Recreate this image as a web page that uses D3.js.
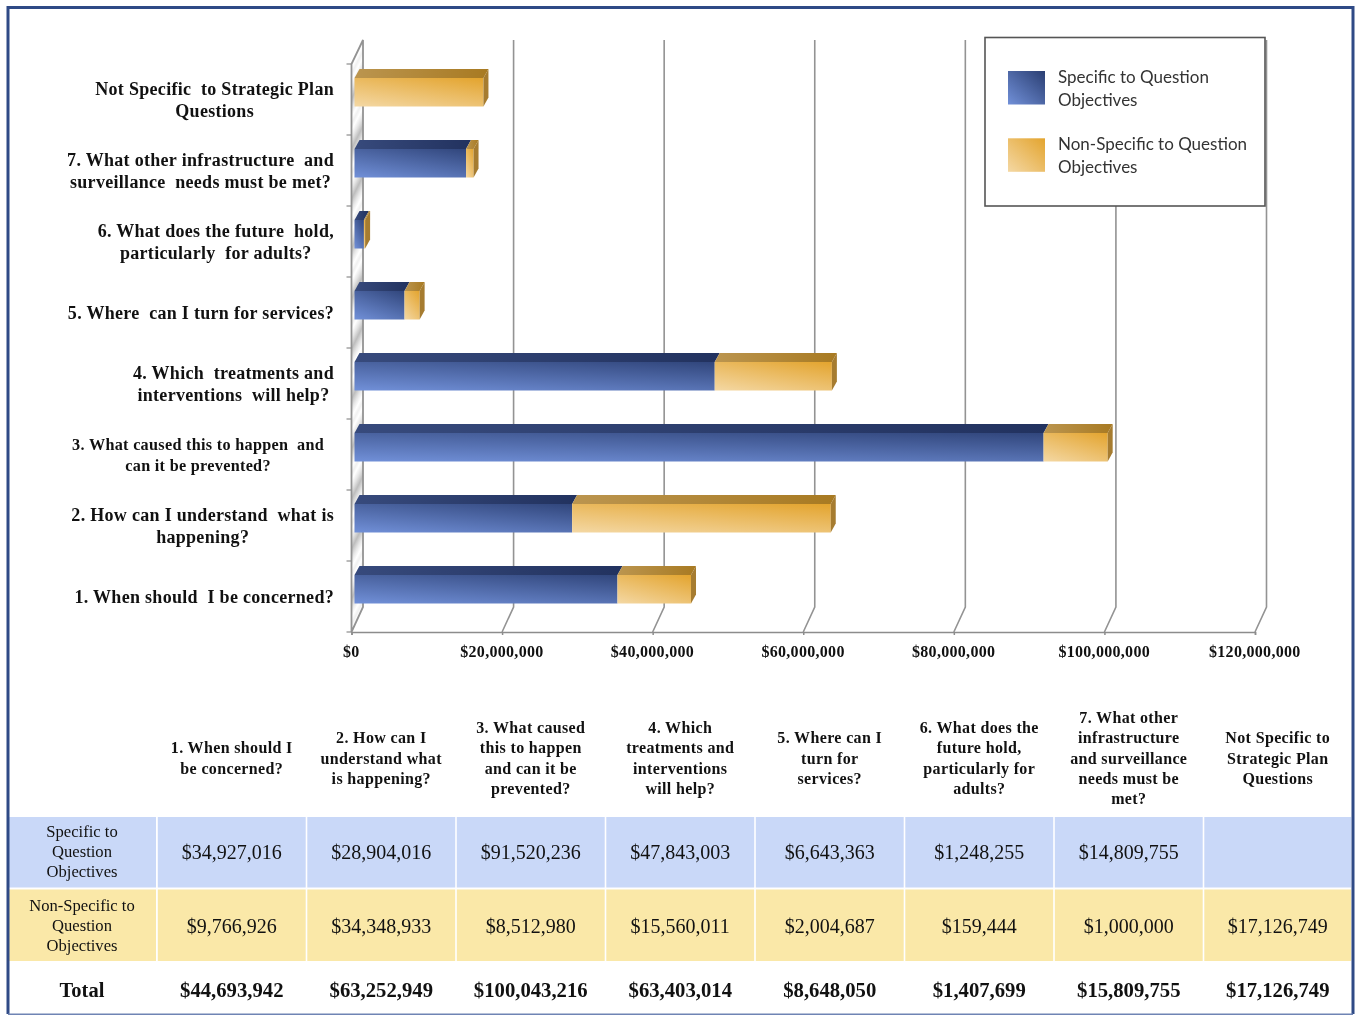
<!DOCTYPE html>
<html><head><meta charset="utf-8">
<script src="https://cdn.jsdelivr.net/npm/d3@7/dist/d3.min.js"></script>
<style>html,body{margin:0;padding:0;background:#fff;overflow:hidden}svg{display:block;filter:blur(.35px)}text{fill:#111}</style>
</head><body><svg id="c" width="1355" height="1015"></svg>
<script>
const categories=["1. When should I be concerned?","2. How can I understand what is happening?","3. What caused this to happen and can it be prevented?","4. Which treatments and interventions will help?","5. Where can I turn for services?","6. What does the future hold, particularly for adults?","7. What other infrastructure and surveillance needs must be met?","Not Specific to Strategic Plan Questions"];
const axisLabelLines=[["1. When should  I be concerned?"],["2. How can I understand  what is","happening?"],["3. What caused this to happen  and","can it be prevented?"],["4. Which  treatments and","interventions  will help?"],["5. Where  can I turn for services?"],["6. What does the future  hold,","particularly  for adults?"],["7. What other infrastructure  and","surveillance  needs must be met?"],["Not Specific  to Strategic Plan","Questions"]];
const headerLines=[["1. When should I","be concerned?"],["2. How can I","understand what","is happening?"],["3. What caused","this to happen","and can it be","prevented?"],["4. Which","treatments and","interventions","will help?"],["5. Where can I","turn for","services?"],["6. What does the","future hold,","particularly for","adults?"],["7. What other","infrastructure","and surveillance","needs must be","met?"],["Not Specific to","Strategic Plan","Questions"]];
const specific=[34927016,28904016,91520236,47843003,6643363,1248255,14809755,null];
const nonSpecific=[9766926,34348933,8512980,15560011,2004687,159444,1000000,17126749];
const totals=[44693942,63252949,100043216,63403014,8648050,1407699,15809755,17126749];
const seriesNames=["Specific to Question Objectives","Non-Specific to Question Objectives"];
const seriesLegendLines=[["Specific to Question","Objectives"],["Non-Specific to Question","Objectives"]];
const rowHeadLines=[["Specific to","Question","Objectives"],["Non-Specific to","Question","Objectives"]];
const xTicks=[0,20e6,40e6,60e6,80e6,100e6,120e6];

const svg=d3.select("#c"),SERIF="'Liberation Serif',serif";
const defs=svg.append("defs");
function grad(id,a,b,x2,y2){const g=defs.append("linearGradient").attr("id",id).attr("x1","0").attr("y1","1").attr("x2",x2).attr("y2",y2);
 g.append("stop").attr("offset","0").attr("stop-color",a);g.append("stop").attr("offset","1").attr("stop-color",b);}
const hgrad=(id,a,b)=>{const g=defs.append("linearGradient").attr("id",id);g.append("stop").attr("offset","0").attr("stop-color",a);g.append("stop").attr("offset","1").attr("stop-color",b);};
grad("blue","#7190d8","#2a3e72",.82,-.29);grad("orange","#f4d8a4","#e3a42e",.77,-.15);
grad("blueSq","#7190d8","#2a3e72",1,0);grad("orangeSq","#f4d8a4","#e3a42e",1,0);
hgrad("blueTop","#374a7c","#22325f");hgrad("orangeTop","#bb954f","#a87a22");
const w=defs.append("linearGradient").attr("id","wall").attr("gradientUnits","userSpaceOnUse").attr("x1","351").attr("y1","0").attr("x2","361").attr("y2","5").attr("spreadMethod","reflect");
[[0,"#bdbdbd"],[.4,"#e6e6e6"],[.75,"#ffffff"],[1,"#f0f0f0"]].forEach(s=>w.append("stop").attr("offset",s[0]).attr("stop-color",s[1]));

const floorY=632,topY=64,depthX=11.5,depthY=-25;
const xFront=d3.scaleLinear().domain([0,120e6]).range([351.5,1255]);
const band=d3.scaleBand().domain(d3.range(categories.length)).range([floorY,topY]);
const barInset=3,barDX=5,barDY=-9,barH=28.5,barOffset=14;
const poly=d3.line();

// gridlines and wall
const grid=svg.append("g").attr("fill","none").attr("stroke","#939393").attr("stroke-width",1.6);
grid.selectAll("path").data(xTicks.slice(1)).join("path")
 .attr("d",d=>poly([[xFront(d),floorY],[xFront(d)+depthX,floorY+depthY],[xFront(d)+depthX,40]]));
svg.append("path").attr("d",poly([[xFront(0),floorY],[xFront(0)+depthX,floorY+depthY],[xFront(0)+depthX,40],[xFront(0),topY]])+"Z").attr("fill","url(#wall)").attr("stroke","#939393").attr("stroke-width",1.8);

// y ticks
svg.append("g").attr("stroke","#8c8c8c").attr("stroke-width",1.2).selectAll("line").data(d3.range(categories.length+1)).join("line")
 .attr("x1",xFront(0)-5).attr("x2",xFront(0)).attr("y1",i=>floorY+(topY-floorY)*i/categories.length).attr("y2",i=>floorY+(topY-floorY)*i/categories.length);

// x axis
const ax=svg.append("g").attr("transform",`translate(0,${floorY})`).call(d3.axisBottom(xFront).tickValues(xTicks).tickSize(3).tickPadding(11).tickFormat(d=>"$"+d3.format(",")(d)));
ax.selectAll(".domain,line").attr("stroke","#8c8c8c").attr("stroke-width",1.5);
ax.selectAll("text").attr("font-family",SERIF).attr("font-weight","bold").attr("font-size",16).attr("letter-spacing",.3).attr("dx",-.7).attr("fill","#111");

// bars
const barX=v=>xFront(v)+barInset;
const barsG=svg.append("g");
categories.forEach((c,i)=>{
 const y0=band(i)+barOffset,y1=y0+barH;
 const a=specific[i]||0,b=a+(nonSpecific[i]||0);
 const g=barsG.append("g");
 const seg=(from,to,front,top)=>{ if(to<=from)return;
  g.append("path").attr("d",poly([[barX(from),y0],[barX(to),y0],[barX(to)+barDX,y0+barDY],[barX(from)+barDX,y0+barDY]])+"Z").attr("fill",`url(#${top})`);
  g.append("rect").attr("x",barX(from)).attr("y",y0).attr("width",barX(to)-barX(from)).attr("height",barH).attr("fill",`url(#${front})`);
 };
 seg(0,a,"blue","blueTop");
 seg(a,b,"orange","orangeTop");
 g.append("path").attr("d",poly([[barX(b),y0],[barX(b)+barDX,y0+barDY],[barX(b)+barDX,y1+barDY],[barX(b),y1]])+"Z").attr("fill","#a67c30");
});

// category labels
const labelsG=svg.append("g").attr("font-family",SERIF).attr("font-weight","bold");
axisLabelLines.forEach((lines,i)=>{
 const small=i===2,fs=small?16.2:18,lh=small?21:22,right=small?324:334;
 const cy=band(i)+35.5;
 const ts=lines.map((t,k)=>labelsG.append("text").attr("font-size",fs).attr("letter-spacing",.3).style("white-space","pre").attr("text-anchor","middle").attr("y",cy+6+(k-(lines.length-1)/2)*lh).text(t));
 const mw=d3.max(ts,t=>t.node().getComputedTextLength());
 ts.forEach(t=>t.attr("x",right-mw/2));
});

// legend
svg.append("rect").attr("x",985).attr("y",37.5).attr("width",280).attr("height",168.5).attr("fill","#fff").attr("stroke","#555").attr("stroke-width",1.6);
seriesNames.forEach((n,i)=>{
 const y=71+i*67.3;
 svg.append("rect").attr("x",1008).attr("y",y).attr("width",37).attr("height",33.5).attr("fill",i?"url(#orangeSq)":"url(#blueSq)");
 seriesLegendLines[i].forEach((t,k)=>svg.append("text").attr("x",1058).attr("y",y+12+k*22.5).attr("font-family","Lato,sans-serif").attr("font-size",17).style("fill","#333").text(t));
});

// table
const colEdges=[9,157,306.5,456,605.5,755,904.5,1054,1203.5,1352];
const rowsY=[[817,887.5],[889.5,961]];
const rowTextNudge=[0,.8];
const fills=["#c9d8f8","#fae8a8"];
const fmt=v=>v==null?"":"$"+d3.format(",")(v);
const tbl=svg.append("g").attr("font-family",SERIF).attr("text-anchor","middle");
[specific,nonSpecific].forEach((vals,r)=>{
 const [t,b]=rowsY[r],my=(t+b)/2+rowTextNudge[r];
 tbl.append("rect").attr("x",colEdges[0]).attr("y",t).attr("width",colEdges[1]-colEdges[0]-1).attr("height",b-t).attr("fill",fills[r]);
 rowHeadLines[r].forEach((l,k)=>tbl.append("text").attr("x",(colEdges[0]+colEdges[1])/2-1).attr("y",my+5.2+(k-1)*20).attr("font-size",16.6).text(l));
 vals.forEach((v,c)=>{
  tbl.append("rect").attr("x",colEdges[c+1]+.8).attr("y",t).attr("width",colEdges[c+2]-colEdges[c+1]-1.6).attr("height",b-t).attr("fill",fills[r]);
  tbl.append("text").attr("x",(colEdges[c+1]+colEdges[c+2])/2).attr("y",my+6.8).attr("font-size",20).text(fmt(v));
 });
});
headerLines.forEach((ls,c)=>ls.forEach((l,k)=>tbl.append("text").attr("x",(colEdges[c+1]+colEdges[c+2])/2).attr("y",763.5+(k-(ls.length-1)/2)*20.2).attr("font-size",16).attr("letter-spacing",.35).attr("font-weight","bold").text(l)));
tbl.append("text").attr("x",82).attr("y",996.5).attr("font-size",20.5).attr("font-weight","bold").text("Total");
totals.forEach((v,c)=>tbl.append("text").attr("x",(colEdges[c+1]+colEdges[c+2])/2).attr("y",996.5).attr("font-size",20.7).attr("font-weight","bold").text(fmt(v)));

// frame
svg.append("path").attr("d","M8 1014V7.5H1353V1014").attr("fill","none").attr("stroke","#2f4a86").attr("stroke-width",3);
svg.append("line").attr("x1",8).attr("x2",1353).attr("y1",1014.3).attr("y2",1014.3).attr("stroke","#6f84b4").attr("stroke-width",1.4);
</script></body></html>
